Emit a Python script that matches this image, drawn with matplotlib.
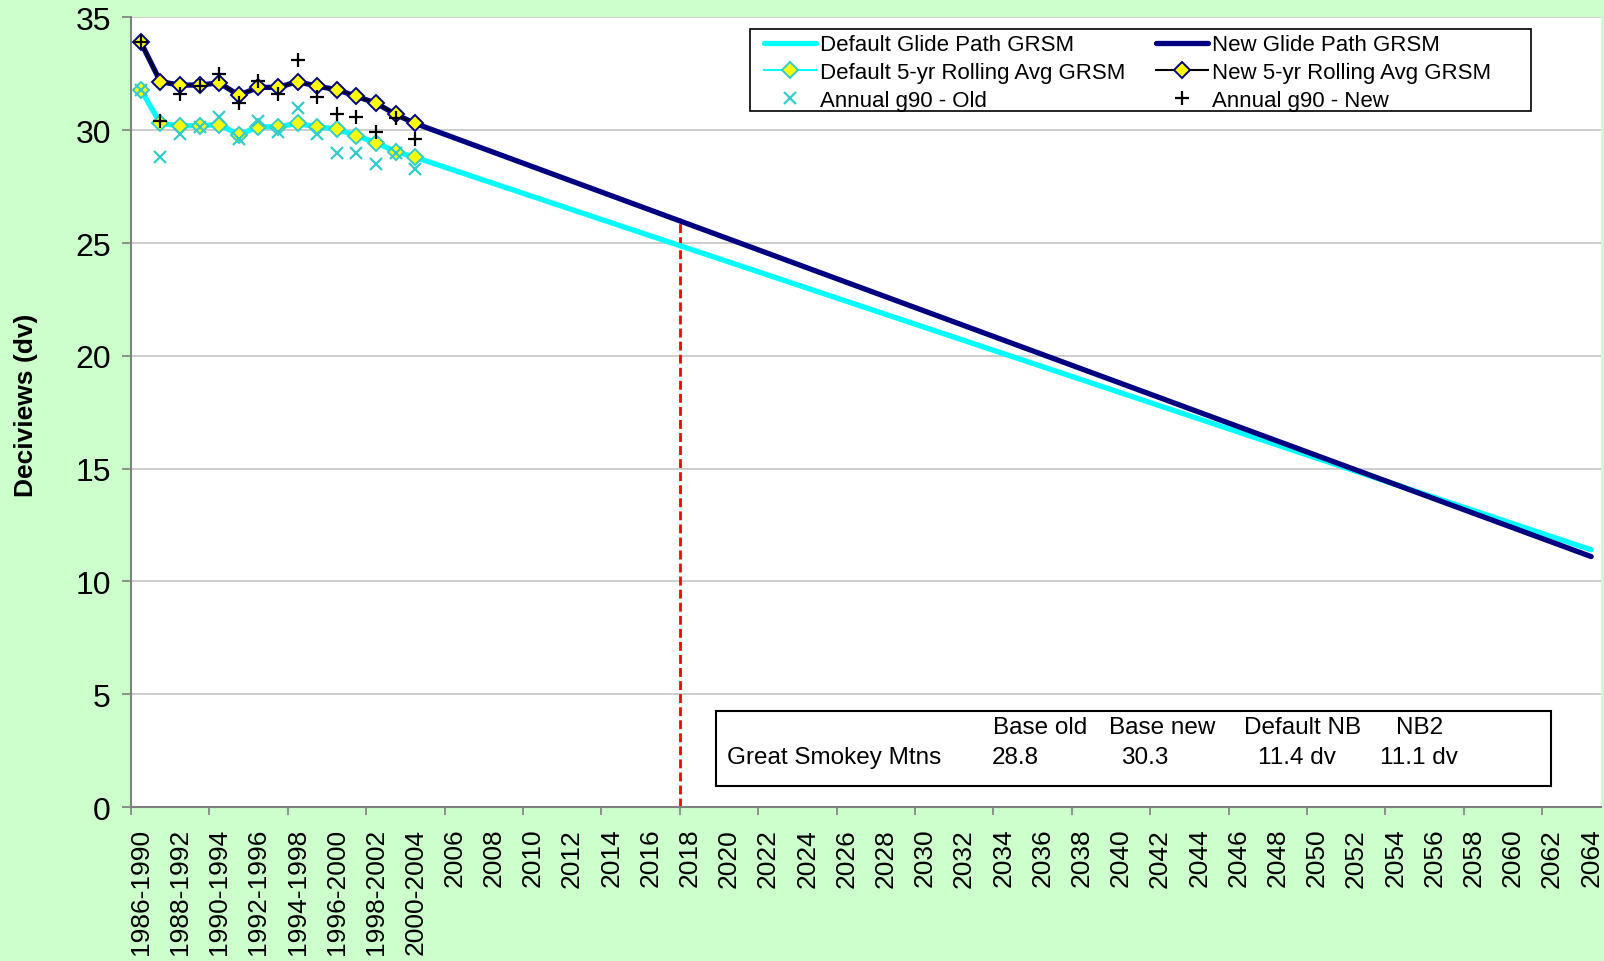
import matplotlib
matplotlib.use('Agg')
import matplotlib.pyplot as plt
from matplotlib.patches import Rectangle

plt.rcParams['font.family'] = ['Liberation Sans', 'DejaVu Sans']

# categories: 5-yr periods then single years
periods = ['1986-1990', '1987-1991', '1988-1992', '1989-1993', '1990-1994',
           '1991-1995', '1992-1996', '1993-1997', '1994-1998', '1995-1999',
           '1996-2000', '1997-2001', '1998-2002', '1999-2003', '2000-2004']
years = [str(y) for y in range(2005, 2065)]
categories = periods + years

default_avg = [31.8, 30.3, 30.2, 30.2, 30.25, 29.8, 30.15, 30.15, 30.3, 30.15,
               30.05, 29.75, 29.45, 29.05, 28.8]
new_avg = [33.9, 32.15, 32.0, 32.0, 32.1, 31.55, 31.9, 31.9, 32.15, 31.95,
           31.8, 31.5, 31.2, 30.7, 30.3]
annual_old = [31.8, 28.8, 29.85, 30.15, 30.6, 29.6, 30.4, 29.9, 31.0, 29.85,
              29.0, 29.0, 28.5, 29.0, 28.3]
annual_new = [33.9, 30.4, 31.6, 31.95, 32.5, 31.2, 32.2, 31.6, 33.1, 31.45,
              30.7, 30.6, 29.9, 30.55, 29.6]

# glide path end points (2064)
default_end = 11.4
new_end = 11.1
red_line_top = 26.1

W, H = 1604, 962
fig = plt.figure(figsize=(W / 100, H / 100), dpi=100, facecolor='#CCFFCC')
ax = fig.add_axes([131 / W, 1 - 808 / H, 1470 / W, (808 - 18.4) / H])
ax.set_facecolor('white')

hist_x = list(range(len(periods)))
end_x = len(categories) - 1

ax.plot(hist_x + [end_x], default_avg + [default_end], color='#00FFFF', lw=3.8,
        solid_capstyle='round', label='Default Glide Path GRSM', zorder=3)
ax.plot(hist_x + [end_x], new_avg + [new_end], color='#000080', lw=3.8,
        solid_capstyle='round', label='New Glide Path GRSM', zorder=3)
ax.plot(hist_x, default_avg, color='#00FFFF', lw=1.5, marker='D', ms=8,
        mfc='#FFFF00', mec='#33CCCC', mew=1.4, label='Default 5-yr Rolling Avg GRSM', zorder=4)
ax.plot(hist_x, new_avg, color='black', lw=1.5, marker='D', ms=8,
        mfc='#FFFF00', mec='#000080', mew=1.4, label='New 5-yr Rolling Avg GRSM', zorder=4)
ax.plot(hist_x, annual_old, ls='none', marker='x', ms=8.5, mew=1.6, color='#33CCCC',
        label='Annual g90 - Old', zorder=5)
ax.plot(hist_x, annual_new, ls='none', marker='+', ms=10, mew=1.6, color='black',
        label='Annual g90 - New', zorder=5)

# 2018 marker line
ax.plot([27.5, 27.5], [0, red_line_top], color='red', lw=2.0, ls=(0, (3.2, 1.5)), zorder=2)

ax.set_xlim(-0.5, len(categories) - 0.5)
ax.set_ylim(0, 35)
ax.set_yticks(range(0, 36, 5))
ax.yaxis.grid(True, color='#C0C0C0', lw=1.1)
ax.set_axisbelow(True)

ax.set_xticks(range(0, len(categories), 2))
ax.set_xticklabels(categories[::2], rotation=90)
ax.set_xticks([x - 0.5 for x in range(0, len(categories), 4)], minor=True)
ax.tick_params(axis='x', which='major', length=0, pad=15, labelsize=19)
ax.tick_params(axis='x', which='minor', length=5.5, width=1.2, color='#808080', direction='out')
ax.tick_params(axis='y', length=6.5, width=1.2, color='#808080', direction='out', pad=8, labelsize=23)

for s in ['top', 'right']:
    ax.spines[s].set_visible(False)
for s in ['left', 'bottom']:
    ax.spines[s].set_color('#808080')
    ax.spines[s].set_linewidth(1.5)

ax.set_ylabel('Deciviews (dv)', fontsize=19, fontweight='bold')
ax.yaxis.set_label_coords(-0.063, 0.51)

h, l = ax.get_legend_handles_labels()
order = [0, 2, 4, 1, 3, 5]
leg = fig.legend([h[i] for i in order], [l[i] for i in order], ncol=2,
                 loc='upper left', bbox_to_anchor=(760 / W, 1 - 31 / H),
                 fontsize=16, frameon=False,
                 handlelength=2.3, handletextpad=0.2, columnspacing=1.4,
                 labelspacing=0.3, borderpad=0.2, borderaxespad=0)
fig.patches.append(Rectangle((750 / W, 1 - 111.5 / H), (1531 - 750) / W, (111.5 - 29.7) / H,
                             transform=fig.transFigure, facecolor='white',
                             edgecolor='black', lw=1.2, zorder=1))

# info box
fig.patches.append(Rectangle((716 / W, 1 - 787 / H), (1551 - 716) / W, (787 - 712) / H,
                             transform=fig.transFigure, fill=True, facecolor='white',
                             edgecolor='black', lw=1.5, zorder=5))
header = ['Base old', 'Base new', 'Default NB', 'NB2']
header_x = [993, 1109, 1244, 1396]
row = ['Great Smokey Mtns', '28.8', '30.3', '11.4 dv', '11.1 dv']
row_x = [727, 992, 1121, 1258, 1380]
for t, x in zip(header, header_x):
    fig.text(x / W, 1 - 728 / H, t, fontsize=17.5, va='center', ha='left', zorder=6)
for t, x in zip(row, row_x):
    fig.text(x / W, 1 - 758 / H, t, fontsize=17.5, va='center', ha='left', zorder=6)

plt.savefig('out.png', dpi=100, facecolor=fig.get_facecolor())
